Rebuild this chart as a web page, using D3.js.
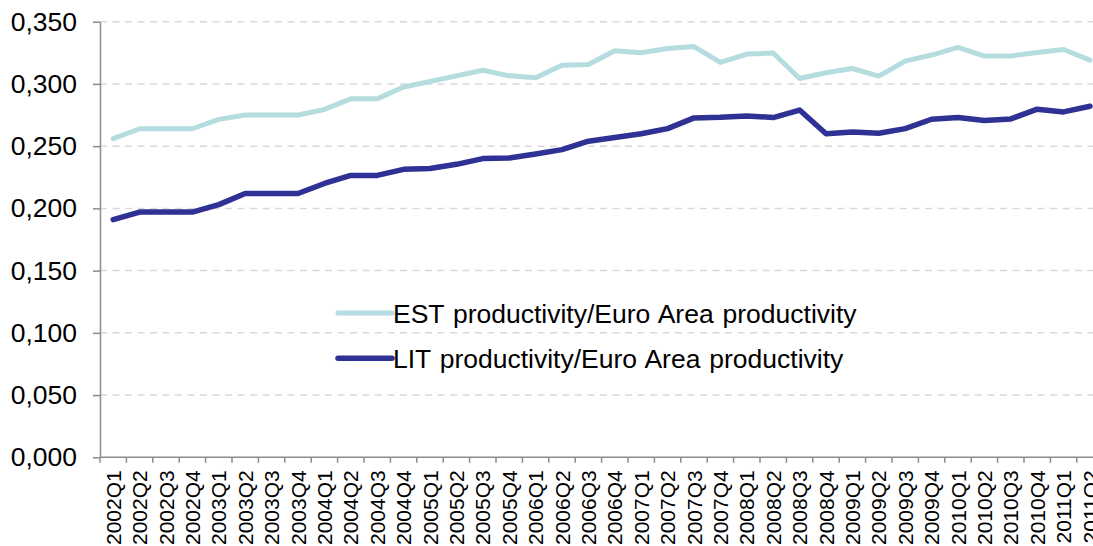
<!DOCTYPE html>
<html>
<head>
<meta charset="utf-8">
<script src="https://cdn.jsdelivr.net/npm/d3@7"></script>
<style>
  body { margin: 0; background: #fff; overflow: hidden; }
  text { font-family: "Liberation Sans", Arial, sans-serif; fill: #000; }
</style>
</head>
<body>
<div class="chart"></div>
<script>
// quarters on the x axis
const quarters = [
  "2002Q1","2002Q2","2002Q3","2002Q4",
  "2003Q1","2003Q2","2003Q3","2003Q4",
  "2004Q1","2004Q2","2004Q3","2004Q4",
  "2005Q1","2005Q2","2005Q3","2005Q4",
  "2006Q1","2006Q2","2006Q3","2006Q4",
  "2007Q1","2007Q2","2007Q3","2007Q4",
  "2008Q1","2008Q2","2008Q3","2008Q4",
  "2009Q1","2009Q2","2009Q3","2009Q4",
  "2010Q1","2010Q2","2010Q3","2010Q4",
  "2011Q1","2011Q2"
];

const estValues = [
  0.256, 0.264, 0.264, 0.264, 0.2715, 0.275, 0.275, 0.275,
  0.2795, 0.288, 0.288, 0.2975, 0.302, 0.3065, 0.311, 0.3065,
  0.305, 0.315, 0.3156, 0.3266, 0.325, 0.3285, 0.330, 0.3173,
  0.324, 0.3248, 0.3044, 0.309, 0.3124, 0.3063, 0.3183, 0.3232,
  0.3293, 0.3224, 0.3224, 0.3253, 0.3277, 0.3191
];

const litValues = [
  0.191, 0.197, 0.197, 0.197, 0.203, 0.212, 0.212, 0.212,
  0.220, 0.2265, 0.2265, 0.2314, 0.232, 0.2354, 0.240, 0.2405,
  0.2437, 0.2472, 0.254, 0.2569, 0.260, 0.2641, 0.2727, 0.2732,
  0.2743, 0.273, 0.279, 0.260, 0.2614, 0.2604, 0.2641, 0.2716,
  0.273, 0.2706, 0.2719, 0.2797, 0.2775, 0.2821
];

const seriesNames = [
  "EST productivity/Euro Area productivity",
  "LIT productivity/Euro Area productivity"
];
const seriesColors = ["#b5dde0", "#2f3194"];

const yTicks = [0, 0.05, 0.10, 0.15, 0.20, 0.25, 0.30, 0.35];

const width = 1093;
const height = 546;

const svg = d3.select(".chart")
  .append("svg")
  .attr("width", width)
  .attr("height", height);

const x = d3.scaleBand()
  .domain(quarters)
  .range([100, 100 + 26.4 * quarters.length])
  .padding(0);

const y = d3.scaleLinear()
  .domain([0, 0.35])
  .range([457.3, 21.7]);

const fmt = d3.formatLocale({ decimal: ",", thousands: ".", grouping: [3], currency: ["", "€"] }).format(".3f");

// dashed gridlines
svg.append("g")
  .selectAll("line")
  .data(yTicks.filter(d => d > 0))
  .enter()
  .append("line")
  .attr("x1", 100)
  .attr("x2", width)
  .attr("y1", d => y(d))
  .attr("y2", d => y(d))
  .attr("stroke", "#d9d9d9")
  .attr("stroke-width", 1.5)
  .attr("stroke-dasharray", "7,5.5");

// y axis
const yAxis = svg.append("g")
  .attr("transform", "translate(100,0)")
  .call(d3.axisLeft(y).tickValues(yTicks).tickFormat(fmt).tickSize(7).tickPadding(16).tickSizeOuter(0));
yAxis.select(".domain").attr("stroke", "#8c8c8c").attr("stroke-width", 1.5);
yAxis.selectAll(".tick line").attr("stroke", "#8c8c8c").attr("stroke-width", 1.5);
yAxis.selectAll("text")
  .attr("font-size", "26.5px")
  .attr("font-family", "Liberation Sans, Arial, sans-serif")
  .attr("fill", "#000");

// x axis, ticks on the band edges
const xAxis = svg.append("g")
  .attr("transform", "translate(0,457.3)");
xAxis.append("line")
  .attr("x1", 100)
  .attr("x2", width)
  .attr("stroke", "#8c8c8c")
  .attr("stroke-width", 1.5);
xAxis.selectAll(".edge")
  .data(quarters)
  .enter()
  .append("line")
  .attr("class", "edge")
  .attr("x1", d => x(d))
  .attr("x2", d => x(d))
  .attr("y1", 0)
  .attr("y2", 5.5)
  .attr("stroke", "#8c8c8c")
  .attr("stroke-width", 1.5);
xAxis.selectAll(".lbl")
  .data(quarters)
  .enter()
  .append("text")
  .attr("class", "lbl")
  .text(d => d)
  .attr("transform", d => "translate(" + (x(d) + x.bandwidth() / 2) + ",0) rotate(-90)")
  .attr("x", -13)
  .attr("dy", "0.36em")
  .attr("text-anchor", "end")
  .attr("font-size", "21px");

// lines
const line = d3.line()
  .x((d, i) => x(quarters[i]) + x.bandwidth() / 2)
  .y(d => y(d));

[estValues, litValues].forEach(function(vals, k) {
  svg.append("path")
    .datum(vals)
    .attr("d", line)
    .attr("fill", "none")
    .attr("stroke", seriesColors[k])
    .attr("stroke-width", k == 0 ? 5 : 5.5)
    .attr("stroke-linejoin", "round")
    .attr("stroke-linecap", "round");
});

// legend
const legend = svg.selectAll(".legend")
  .data(seriesNames)
  .enter()
  .append("g")
  .attr("class", "legend")
  .attr("transform", (d, i) => "translate(338," + (313 + i * 45.3) + ")");
legend.append("line")
  .attr("x1", 0)
  .attr("x2", 54)
  .attr("stroke", (d, i) => seriesColors[i])
  .attr("stroke-width", (d, i) => i == 0 ? 5 : 5.5)
  .attr("stroke-linecap", "round");
legend.append("text")
  .text(d => d)
  .attr("x", 55)
  .attr("dy", "0.36em")
  .attr("font-size", "26.5px")
  .attr("word-spacing", "1.5px");
</script>
</body>
</html>
